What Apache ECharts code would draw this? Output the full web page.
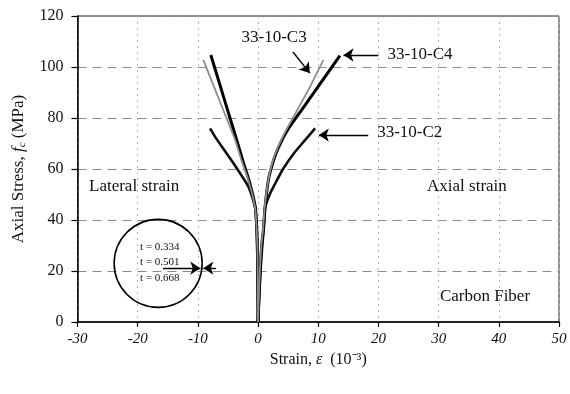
<!DOCTYPE html>
<html>
<head>
<meta charset="utf-8">
<script src="https://cdn.jsdelivr.net/npm/echarts@6/dist/echarts.min.js"></script>
<style>
  html, body { margin: 0; padding: 0; background: #fff; }
  #chart { width: 570px; height: 394px; }
</style>
</head>
<body>
<div id="chart"></div>
<script>
// Axis ranges and tick steps
const strainRange = [-30, 50];
const strainStep = 10;
const stressRange = [0, 120];
const stressStep = 20;

// Specimen names
const specimens = ['33-10-C2', '33-10-C3', '33-10-C4'];

// Measured curves: [strain (10^-3), axial stress (MPa)]
const c2Lateral = [[0, 0], [-0.04, 10], [-0.08, 20], [-0.15, 30], [-0.25, 37], [-0.5, 45], [-1.6, 53], [-4.6, 64], [-7.14, 72.6], [-7.97, 75.9]];
const c2Axial   = [[0, 0], [0.2, 10], [0.4, 20], [0.7, 30], [0.95, 37], [1.2, 45], [2.0, 50.4], [3.0, 55], [4.15, 60], [5.9, 66], [7.8, 71.3], [9.47, 75.9]];

const c3Lateral = [[0, 0], [-0.03, 10], [-0.06, 20], [-0.12, 30], [-0.22, 36], [-0.5, 45], [-1.6, 55.5], [-2.7, 63], [-3.8, 71.3], [-6.1, 85], [-9.09, 102.8]];
const c3Axial   = [[0, 0], [0.12, 10], [0.3, 20], [0.55, 30], [0.85, 37], [1.1, 45], [1.65, 55], [2.3, 62], [3.2, 68], [4.5, 74.5], [5.6, 79.2], [8.36, 91], [10.85, 102.7]];

const c4Lateral = [[0, 0], [-0.03, 10], [-0.06, 20], [-0.12, 30], [-0.2, 36], [-0.45, 45], [-1.5, 55.5], [-2.5, 63], [-3.54, 71.3], [-5.05, 83], [-7.85, 104.7]];
const c4Axial   = [[0, 0], [0.15, 10], [0.35, 20], [0.6, 30], [0.88, 36], [1.16, 45], [1.71, 55.6], [2.4, 62], [3.3, 68], [4.9, 75.3], [7.49, 84], [10.47, 94], [13.6, 104.5]];

// Wrap thickness values printed inside the legend circle
const thicknessLabels = ['t = 0.334', 't = 0.501', 't = 0.668'];

const SERIF = '"Liberation Serif", "Times New Roman", serif';

const curveStyle = {
  '33-10-C2': { color: '#111', width: 2.6 },
  '33-10-C3': { color: '#8c8c8c', width: 1.8 },
  '33-10-C4': { color: '#000', width: 3 }
};

function curve(name, data) {
  const s = curveStyle[name];
  return {
    name: name,
    type: 'line',
    data: data,
    showSymbol: false,
    smooth: 0.2,
    silent: true,
    lineStyle: { color: s.color, width: s.width },
    z: name === '33-10-C3' ? 4 : 3
  };
}

// Arrows pointing from the labels to the curve ends, and the two inside the circle
const arrowLines = [
  [[20.0, 104.7], [14.2, 104.7]],
  [[18.3, 73.3], [10.1, 73.3]],
  [[5.8, 105.9], [8.6, 97.6]],
  [[-15.8, 21.1], [-9.6, 21.1]],
  [[-7.0, 21.1], [-9.1, 21.1]]
];

const chart = echarts.init(document.getElementById('chart'), null, { renderer: 'canvas' });

const option = {
  animation: false,
  backgroundColor: '#fff',
  grid: {
    left: 77.5, right: 11, top: 16, bottom: 72,
    show: true, borderColor: '#222', borderWidth: 1, backgroundColor: 'transparent'
  },
  xAxis: {
    type: 'value',
    min: strainRange[0], max: strainRange[1], interval: strainStep,
    axisLine: { show: true, onZero: false, lineStyle: { color: '#000', width: 1.5 } },
    axisTick: { show: true, length: 5, lineStyle: { color: '#000', width: 1.2 } },
    axisLabel: { color: '#111', fontFamily: SERIF, fontSize: 15, fontStyle: 'italic', margin: 10 },
    splitLine: { show: true, lineStyle: { color: '#b5b5b5', type: [2, 4], width: 1 } },
    name: 'Strain, {e|ε}  (10⁻³)',
    nameLocation: 'middle',
    nameGap: 25,
    nameTextStyle: {
      color: '#111', fontFamily: SERIF, fontSize: 16,
      rich: { e: { fontFamily: SERIF, fontSize: 16, fontStyle: 'italic', color: '#111' } }
    }
  },
  yAxis: {
    type: 'value',
    min: stressRange[0], max: stressRange[1], interval: stressStep,
    axisLine: { show: true, onZero: false, lineStyle: { color: '#000', width: 1.5 } },
    axisTick: { show: true, length: 6, lineStyle: { color: '#000', width: 1.2 } },
    axisLabel: { color: '#111', fontFamily: SERIF, fontSize: 16, margin: 14 },
    splitLine: { show: true, lineStyle: { color: '#8a8a8a', type: [9, 6], width: 1 } },
    name: 'Axial Stress, {f|f}{c|c} (MPa)',
    nameLocation: 'middle',
    nameRotate: 90,
    nameGap: 54,
    nameTextStyle: {
      color: '#111', fontFamily: SERIF, fontSize: 17, lineHeight: 20, verticalAlign: 'middle',
      rich: {
        f: { fontFamily: SERIF, fontSize: 17, fontStyle: 'italic', color: '#111', lineHeight: 20 },
        c: { fontFamily: SERIF, fontSize: 11, fontStyle: 'italic', color: '#111', lineHeight: 20, padding: [8, 0, 0, 0] }
      }
    }
  },
  series: [
    curve('33-10-C2', c2Lateral), curve('33-10-C2', c2Axial),
    curve('33-10-C4', c4Lateral), curve('33-10-C4', c4Axial),
    curve('33-10-C3', c3Lateral), curve('33-10-C3', c3Axial),
    {
      name: 'arrows',
      type: 'line',
      data: [],
      silent: true,
      markLine: {
        silent: true,
        animation: false,
        symbol: ['none', 'arrow'],
        symbolSize: 10,
        label: { show: false },
        lineStyle: { color: '#000', width: 1.4, type: 'solid' },
        emphasis: { disabled: true },
        data: arrowLines.map(([a, b]) => [{ coord: a }, { coord: b }])
      }
    }
  ]
};

chart.setOption(option);

// Text annotations and the legend circle, placed in data coordinates
const textNotes = [
  { text: specimens[1], at: [2.66, 111.4], size: 17 },
  { text: specimens[2], at: [26.9, 104.7], size: 17 },
  { text: specimens[0], at: [25.2, 74.2], size: 17 },
  { text: 'Lateral strain', at: [-20.6, 53.3], size: 17 },
  { text: 'Axial strain', at: [34.7, 53.3], size: 17 },
  { text: 'Carbon Fiber', at: [37.7, 10.1], size: 17 }
];

const px = (p) => chart.convertToPixel({ gridIndex: 0 }, p);
const elements = [];

textNotes.forEach((n) => {
  const [x, y] = px(n.at);
  elements.push({
    type: 'text', x: x, y: y, silent: true,
    style: { text: n.text, fill: '#111', font: n.size + 'px ' + SERIF, textAlign: 'center', textVerticalAlign: 'middle' }
  });
});

const [cx, cy] = px([-16.6, 23]);
elements.push({
  type: 'circle', silent: true,
  shape: { cx: cx, cy: cy, r: 44 },
  style: { fill: 'none', stroke: '#000', lineWidth: 1.6 }
});

const tPos = [[-19.6, 29.3], [-19.6, 23.4], [-19.6, 17.1]];
thicknessLabels.forEach((t, i) => {
  const [x, y] = px(tPos[i]);
  elements.push({
    type: 'text', x: x, y: y, silent: true,
    style: { text: t, fill: '#111', font: '11px ' + SERIF, textAlign: 'left', textVerticalAlign: 'middle' }
  });
});

chart.setOption({ graphic: { elements: elements } });
</script>
</body>
</html>
